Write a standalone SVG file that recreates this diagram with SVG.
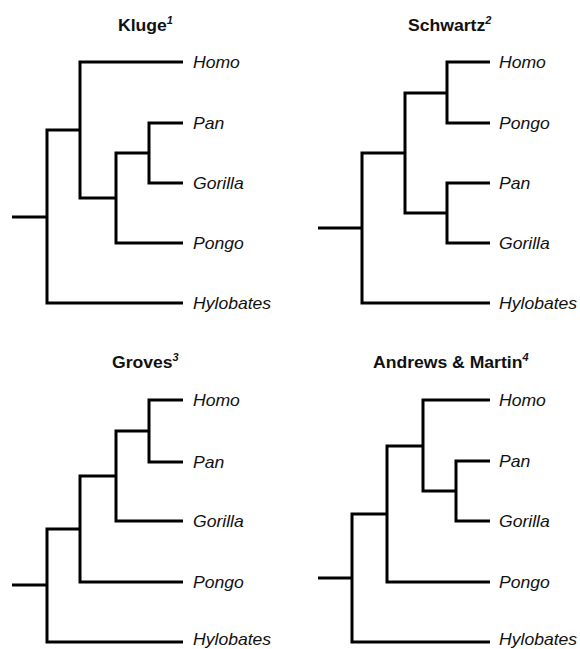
<svg xmlns="http://www.w3.org/2000/svg" width="580" height="649" viewBox="0 0 580 649">
  <style>
    .branch { fill: none; stroke: #000; stroke-width: 3; stroke-linejoin: miter; stroke-linecap: butt; }
    .taxon { font-family: "Liberation Sans", Arial, sans-serif; font-size: 16px; font-style: italic; fill: #111; }
    .title { font-family: "Liberation Sans", Arial, sans-serif; font-size: 16px; font-weight: bold; fill: #111; }
    .ref { font-size: 10px; font-style: italic; }
  </style>
  <rect width="580" height="649" fill="#fff"/>

  <!-- tree titles -->
  <g id="title-kluge"><text class="title" transform="translate(118,31) scale(1.1,1)">Kluge<tspan class="ref" dy="-7">1</tspan></text></g>
  <g id="title-schwartz"><text class="title" transform="translate(408,31) scale(1.1,1)">Schwartz<tspan class="ref" dy="-7">2</tspan></text></g>
  <g id="title-groves"><text class="title" transform="translate(112,368) scale(1.1,1)">Groves<tspan class="ref" dy="-7">3</tspan></text></g>
  <g id="title-andrews-martin"><text class="title" transform="translate(373,368) scale(1.1,1)">Andrews &amp; Martin<tspan class="ref" dy="-7">4</tspan></text></g>

  <!-- branches of the four cladograms -->
  <g id="connectors">
    <!-- Kluge -->
    <path class="branch" d="M183,123 H149 V183 H183"/>
    <path class="branch" d="M149,153 H116 V243 H183"/>
    <path class="branch" d="M183,62 H80 V198 H116"/>
    <path class="branch" d="M80,130 H47 V303 H183"/>
    <path class="branch" d="M47,217 H12"/>
    <!-- Schwartz -->
    <path class="branch" d="M490,62 H447 V123 H490"/>
    <path class="branch" d="M490,183 H447 V243 H490"/>
    <path class="branch" d="M447,93 H405 V213 H447"/>
    <path class="branch" d="M405,153 H362 V303 H490"/>
    <path class="branch" d="M362,228 H318"/>
    <!-- Groves -->
    <path class="branch" d="M183,400 H149 V462 H183"/>
    <path class="branch" d="M149,431 H116 V521 H183"/>
    <path class="branch" d="M116,476 H80 V582 H183"/>
    <path class="branch" d="M80,529 H47 V642 H183"/>
    <path class="branch" d="M47,585 H12"/>
    <!-- Andrews & Martin -->
    <path class="branch" d="M490,461 H456 V521 H490"/>
    <path class="branch" d="M490,400 H423 V491 H456"/>
    <path class="branch" d="M423,446 H387 V582 H490"/>
    <path class="branch" d="M387,514 H352 V642 H490"/>
    <path class="branch" d="M352,578 H318"/>
  </g>

  <!-- taxon labels: Kluge -->
  <g id="k-homo"><text class="taxon" transform="translate(193,68) scale(1.1,1)">Homo</text></g>
  <g id="k-pan"><text class="taxon" transform="translate(193,129) scale(1.1,1)">Pan</text></g>
  <g id="k-gorilla"><text class="taxon" transform="translate(193,189) scale(1.1,1)">Gorilla</text></g>
  <g id="k-pongo"><text class="taxon" transform="translate(193,249) scale(1.1,1)">Pongo</text></g>
  <g id="k-hylobates"><text class="taxon" transform="translate(193,309) scale(1.1,1)">Hylobates</text></g>

  <!-- taxon labels: Schwartz -->
  <g id="s-homo"><text class="taxon" transform="translate(499,68) scale(1.1,1)">Homo</text></g>
  <g id="s-pongo"><text class="taxon" transform="translate(499,129) scale(1.1,1)">Pongo</text></g>
  <g id="s-pan"><text class="taxon" transform="translate(499,189) scale(1.1,1)">Pan</text></g>
  <g id="s-gorilla"><text class="taxon" transform="translate(499,249) scale(1.1,1)">Gorilla</text></g>
  <g id="s-hylobates"><text class="taxon" transform="translate(499,309) scale(1.1,1)">Hylobates</text></g>

  <!-- taxon labels: Groves -->
  <g id="g-homo"><text class="taxon" transform="translate(193,406) scale(1.1,1)">Homo</text></g>
  <g id="g-pan"><text class="taxon" transform="translate(193,468) scale(1.1,1)">Pan</text></g>
  <g id="g-gorilla"><text class="taxon" transform="translate(193,527) scale(1.1,1)">Gorilla</text></g>
  <g id="g-pongo"><text class="taxon" transform="translate(193,588) scale(1.1,1)">Pongo</text></g>
  <g id="g-hylobates"><text class="taxon" transform="translate(193,645) scale(1.1,1)">Hylobates</text></g>

  <!-- taxon labels: Andrews & Martin -->
  <g id="a-homo"><text class="taxon" transform="translate(499,406) scale(1.1,1)">Homo</text></g>
  <g id="a-pan"><text class="taxon" transform="translate(499,467) scale(1.1,1)">Pan</text></g>
  <g id="a-gorilla"><text class="taxon" transform="translate(499,527) scale(1.1,1)">Gorilla</text></g>
  <g id="a-pongo"><text class="taxon" transform="translate(499,588) scale(1.1,1)">Pongo</text></g>
  <g id="a-hylobates"><text class="taxon" transform="translate(499,645) scale(1.1,1)">Hylobates</text></g>
</svg>
